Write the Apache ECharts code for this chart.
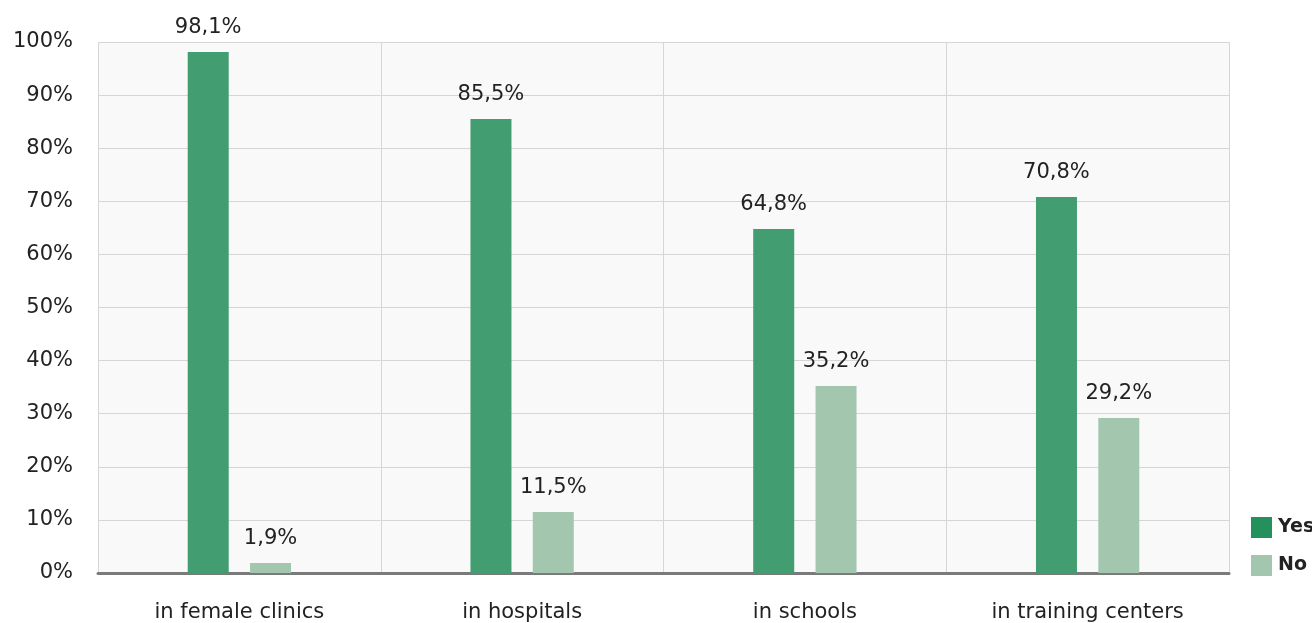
<!DOCTYPE html>
<html>
<head>
<meta charset="utf-8">
<script src="https://cdn.jsdelivr.net/npm/echarts@6/dist/echarts.min.js"></script>
<style>
  html, body { margin: 0; padding: 0; background: #ffffff; }
  #chart { width: 1312px; height: 623px; }
</style>
</head>
<body>
<div id="chart"></div>
<script>
// Share of respondents per location
const categories = ['in female clinics', 'in hospitals', 'in schools', 'in training centers'];
const yesValues = [98.1, 85.5, 64.8, 70.8];
const noValues = [1.9, 11.5, 35.2, 29.2];
const yTicks = [0, 10, 20, 30, 40, 50, 60, 70, 80, 90, 100];

const FONT = '"DejaVu Sans", "Noto Sans", sans-serif';
const YES_COLOR = '#429e70';
const NO_COLOR = '#a3c7ae';

const fmt = v => String(v).replace('.', ',') + '%';

const chart = echarts.init(document.getElementById('chart'));
chart.setOption({
  animation: false,
  backgroundColor: '#ffffff',
  textStyle: { fontFamily: FONT },
  grid: {
    left: 98, right: 83, top: 42, bottom: 48,
    show: true, backgroundColor: '#f9f9f9', borderWidth: 0
  },
  legend: {
    orient: 'vertical',
    left: 1251,
    bottom: 47,
    padding: 0,
    itemWidth: 21,
    itemHeight: 21,
    itemGap: 17,
    icon: 'rect',
    textStyle: { fontFamily: FONT, fontSize: 19, fontWeight: 'bold', color: '#222', padding: [0, 0, 0, 1] },
    data: [
      { name: 'Yes', itemStyle: { color: '#23905e' } },
      { name: 'No', itemStyle: { color: NO_COLOR } }
    ]
  },
  xAxis: {
    type: 'category',
    data: categories,
    axisLine: { lineStyle: { color: '#7a7a7a', width: 3 } },
    axisTick: { show: false },
    axisLabel: { fontFamily: FONT, fontSize: 21, color: '#222', margin: 29 },
    splitLine: { show: true, lineStyle: { color: '#d6d6d6', width: 1 } }
  },
  yAxis: {
    type: 'value',
    min: yTicks[0],
    max: yTicks[yTicks.length - 1],
    interval: 10,
    axisLine: { show: false },
    axisTick: { show: false },
    axisLabel: { fontFamily: FONT, fontSize: 21, color: '#222', margin: 25, padding: [5, 0, 0, 0], formatter: v => v + '%' },
    splitLine: { lineStyle: { color: '#d6d6d6', width: 1 } }
  },
  series: [
    {
      name: 'Yes', type: 'bar', data: yesValues,
      barWidth: 41, barGap: '52%',
      itemStyle: { color: YES_COLOR },
      label: { show: true, position: 'top', distance: 14, fontFamily: FONT, fontSize: 21, color: '#222', formatter: p => fmt(p.value) }
    },
    {
      name: 'No', type: 'bar', data: noValues,
      barWidth: 41,
      itemStyle: { color: NO_COLOR },
      label: { show: true, position: 'top', distance: 14, fontFamily: FONT, fontSize: 21, color: '#222', formatter: p => fmt(p.value) }
    }
  ]
});
</script>
</body>
</html>
